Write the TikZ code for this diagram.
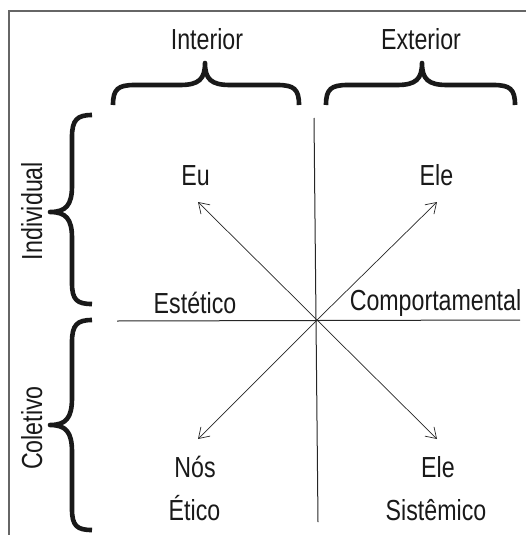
\documentclass[tikz,border=0pt]{standalone}
\usepackage{fontspec}
\setmainfont[FakeStretch=0.8]{Liberation Sans}
\usetikzlibrary{arrows.meta}
\tikzset{
  lbl/.style={font=\fontsize{29}{34}\selectfont, inner sep=0pt, anchor=base, text=black!90},
  brace/.style={line width=4.6pt, line join=round, black!90},
  axis/.style={line width=1pt, black!85},
  ray/.style={line width=0.7pt, black!85, -{Straight Barb[length=10pt,width=13pt,line width=0.7pt]}},
  frameline/.style={line width=1.2pt, black!60}
}
\begin{document}
\begin{tikzpicture}[x=1pt,y=-1pt]
\useasboundingbox (0,0) rectangle (526,535);
% frame
\coordinate (f1) at (9,535);
\coordinate (f2) at (9,11);
\coordinate (f3) at (526,11);
\draw[frameline] (f1) -- (f2) -- (f3);
% axes
\coordinate (vt) at (314,118);
\coordinate (vb) at (318,522);
\coordinate (hl) at (117,321);
\coordinate (hr) at (520,320);
\coordinate (c) at (317,320);
\draw[axis] (vt) -- (vb);
\draw[axis] (hl) -- (hr);
% arrows
\coordinate (ul) at (198,202);
\coordinate (ur) at (437,202);
\coordinate (ll) at (198,439);
\coordinate (lr) at (437,439);
\draw[ray] (c) -- (ul);
\draw[ray] (c) -- (ur);
\draw[ray] (c) -- (ll);
\draw[ray] (c) -- (lr);
% top braces
\draw[brace] (113,105) .. controls (113,89) and (118,85) .. (135,85) -- (180,85)
  .. controls (199,85) and (205,79) .. (205,63)
  .. controls (205,79) and (211,85) .. (230,85) -- (277,85)
  .. controls (294,85) and (299,89) .. (299,105);
\draw[brace] (326,105) .. controls (326,89) and (331,85) .. (348,85) -- (397,85)
  .. controls (416,85) and (422,79) .. (422,63)
  .. controls (422,79) and (428,85) .. (447,85) -- (493,85)
  .. controls (510,85) and (515,89) .. (515,105);
% left braces
\draw[brace] (92,115) .. controls (77,115) and (72,120) .. (72,137) -- (72,186)
  .. controls (72,205) and (66,212) .. (50,212)
  .. controls (66,212) and (72,219) .. (72,238) -- (72,283)
  .. controls (72,300) and (77,304) .. (92,304);
\draw[brace] (92,320) .. controls (77,320) and (72,325) .. (72,342) -- (72,398)
  .. controls (72,418) and (66,425) .. (50,425)
  .. controls (66,425) and (72,432) .. (72,452) -- (72,509)
  .. controls (72,526) and (77,530) .. (92,530);
% labels
\node[lbl] (interior) at (207,50) {Interior};
\node[lbl] (exterior) at (421,50) {Exterior};
\node[lbl, rotate=90] (individual) at (42,211) {Individual};
\node[lbl, rotate=90] (coletivo) at (42,428) {Coletivo};
\node[lbl] (eu) at (195.5,185) {Eu};
\node[lbl] (ele1) at (436.5,185) {Ele};
\node[lbl] (estetico) at (195,313) {Estético};
\node[lbl] (comport) at (435.5,310) {Comportamental};
\node[lbl] (nos) at (195,477) {Nós};
\node[lbl] (ele2) at (438,477) {Ele};
\node[lbl] (etico) at (194.5,520) {Ético};
\node[lbl] (sistemico) at (436,520) {Sistêmico};
\end{tikzpicture}
\end{document}
